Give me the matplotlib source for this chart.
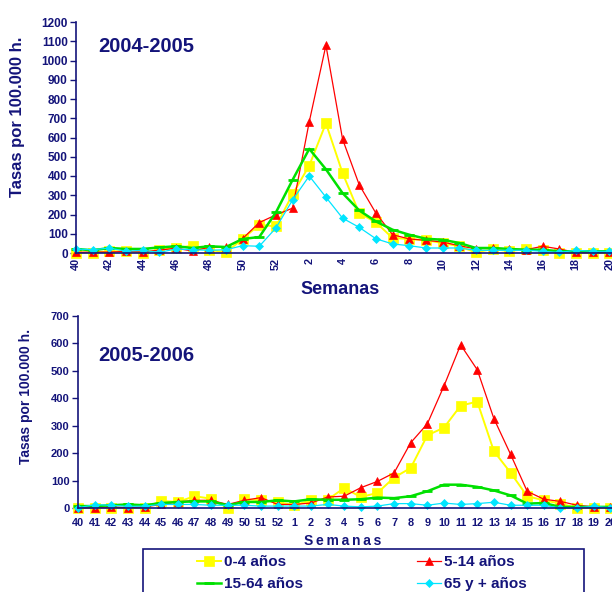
import matplotlib
matplotlib.use("Agg")
from matplotlib import pyplot as plt
from matplotlib.patches import Rectangle

# Semanas epidemiológicas (40..52, 1..20)
semanas = [str(s) for s in list(range(40, 53)) + list(range(1, 21))]

# Temporada 2004-2005 (tasas por 100.000 h.)
t1_0_4 = [2, 2, 9, 9, 2, 17, 26, 38, 17, 3, 73, 147, 138, 306, 454, 674, 415, 207, 159, 78,
          73, 66, 52, 35, 3, 21, 9, 21, 14, 0, 0, 0, 0]
t1_5_14 = [3, 5, 5, 8, 5, 15, 25, 10, 30, 30, 75, 158, 198, 233, 682, 1079, 591, 354, 207, 95,
           73, 66, 57, 38, 21, 26, 21, 17, 35, 21, 3, 3, 3]
t1_15_64 = [21, 14, 26, 21, 21, 29, 35, 26, 35, 31, 73, 83, 211, 380, 541, 435, 311, 221, 164, 121,
            95, 74, 69, 52, 26, 26, 21, 17, 17, 9, 9, 9, 9]
t1_65 = [21, 17, 26, 9, 14, 3, 21, 17, 14, 17, 38, 35, 130, 276, 400, 290, 181, 133, 74, 47,
         38, 26, 26, 26, 14, 14, 14, 14, 9, 3, 14, 9, 9]

# Temporada 2005-2006
t2_0_4 = [0, 1, 1, 0, 0, 26, 22, 43, 34, 0, 32, 28, 22, 10, 28, 30, 73, 40, 55, 111,
          146, 265, 293, 373, 388, 207, 129, 43, 28, 16, 0, 0, 0]
t2_5_14 = [0, 1, 4, 1, 4, 13, 22, 28, 28, 13, 28, 38, 13, 13, 18, 40, 43, 74, 97, 128,
           238, 307, 445, 595, 504, 326, 196, 61, 32, 24, 10, 4, 4]
t2_15_64 = [7, 7, 10, 13, 10, 18, 22, 24, 24, 10, 22, 22, 28, 24, 32, 30, 30, 32, 38, 36,
            43, 61, 85, 85, 77, 64, 46, 16, 18, 4, 4, 4, 4]
t2_65 = [1, 12, 10, 6, 7, 13, 13, 13, 10, 10, 10, 7, 7, 7, 7, 13, 7, 4, 7, 16,
         16, 10, 18, 13, 16, 21, 10, 10, 10, 0, 1, 6, 1]

navy = '#14147a'
plt.rcParams['font.family'] = ['Liberation Sans', 'DejaVu Sans']
plt.rcParams['font.weight'] = 'bold'

fig = plt.figure(figsize=(6.12, 5.92), dpi=100)
ax1 = fig.add_axes([76 / 612, 1 - 253 / 592, 536 / 612, 231 / 592])
ax2 = fig.add_axes([78 / 612, 1 - 508 / 592, 534 / 612, 192 / 592])

x = list(range(len(semanas)))

estilos = [
    ('0-4 años', '#ffff00', 's', 6.5, 1.4),
    ('5-14 años', '#ff0000', '^', 6, 0.9),
    ('15-64 años', '#00e000', '_', 7, 1.8),
    ('65 y + años', '#00e5ff', 'D', 4.5, 0.9),
]

def dibujar(ax, series, ysize):
    lineas = []
    for (nombre, color, marca, ms, lw), datos in zip(estilos, series):
        mew = 2 if marca == '_' else 0.5
        l, = ax.plot(x, datos, color=color, marker=marca, markersize=ms, linewidth=lw,
                     markeredgecolor=color, markeredgewidth=mew, label=nombre, clip_on=False)
        lineas.append(l)
    for lado in ['top', 'right']:
        ax.spines[lado].set_visible(False)
    for lado in ['left', 'bottom']:
        ax.spines[lado].set_color(navy)
        ax.spines[lado].set_linewidth(1.2)
    ax.tick_params(axis='y', colors=navy, length=4, width=1, labelsize=ysize, pad=2)
    ax.tick_params(axis='x', colors=navy, length=0, labelsize=7.8)
    for t in ax.get_yticklabels():
        t.set_fontweight('bold')
    return lineas

lineas = dibujar(ax1, [t1_0_4, t1_5_14, t1_15_64, t1_65], 8.5)
ax1.set_ylim(0, 1200)
ax1.set_yticks(range(0, 1201, 100))
ax1.set_xlim(0, 32.17)
ax1.set_xticks(x[::2])
ax1.set_xticklabels(semanas[::2], rotation=90, fontweight='bold', va='top')
ax1.set_ylabel('Tasas por 100.000 h.', fontsize=12, color=navy, fontweight='bold')
ax1.yaxis.set_label_coords(-0.095, 0.589)
ax1.text(0.041, 0.896, '2004-2005', transform=ax1.transAxes, fontsize=14.5, color=navy,
         fontweight='bold', va='center')
fig.text(340 / 612, 1 - 290 / 592, 'Semanas', fontsize=13, color=navy, fontweight='bold',
         ha='center', va='center')

dibujar(ax2, [t2_0_4, t2_5_14, t2_15_64, t2_65], 8)
ax2.set_ylim(0, 700)
ax2.set_yticks(range(0, 701, 100))
ax2.set_xlim(0, 32.1)
ax2.set_xticks(x)
ax2.set_xticklabels(semanas, fontweight='bold')
ax2.tick_params(axis='x', pad=7)
ax2.set_ylabel('Tasas por 100.000 h.', fontsize=10, color=navy, fontweight='bold')
ax2.yaxis.set_label_coords(-0.084, 0.583)
ax2.text(0.037, 0.792, '2005-2006', transform=ax2.transAxes, fontsize=14.5, color=navy,
         fontweight='bold', va='center')
fig.text(343 / 612, 1 - 541 / 592, 'S\u2009e\u2009m\u2009a\u2009n\u2009a\u2009s', fontsize=10,
         color=navy, fontweight='bold', ha='center', va='center')

# Caja de la leyenda
fig.patches.append(Rectangle((143 / 612, -0.05), 441 / 612, 0.05 + 1 - 549 / 592,
                             transform=fig.transFigure, fill=False, edgecolor=navy,
                             linewidth=1.2))
orden = [lineas[0], lineas[2], lineas[1], lineas[3]]
leg = fig.legend(orden, [l.get_label() for l in orden], loc='upper left',
                 bbox_to_anchor=(197 / 612, 1 - 555 / 592), ncol=2, frameon=False,
                 fontsize=11, handlelength=1.55, handletextpad=0.2, columnspacing=7.5,
                 labelspacing=0.55, borderpad=0, borderaxespad=0)
for t in leg.get_texts():
    t.set_color(navy)
    t.set_fontweight('bold')

fig.savefig('out.png', dpi=100)
